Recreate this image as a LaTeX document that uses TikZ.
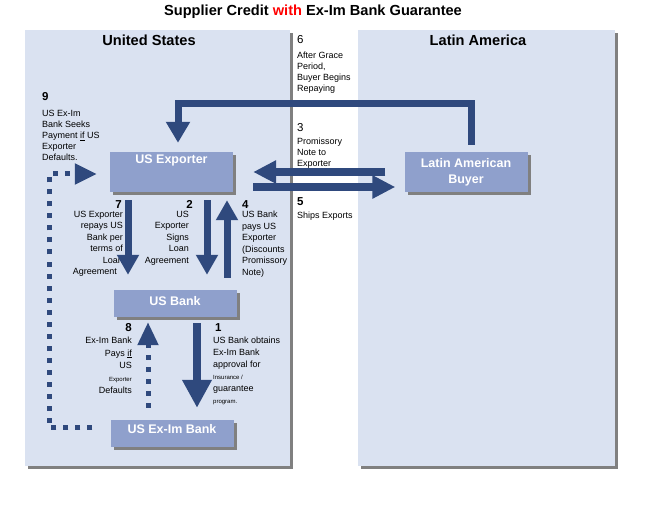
\documentclass[tikz,border=0pt]{standalone}
\usepackage{fontspec}
\setmainfont{Liberation Sans}
\usepackage{xcolor}
\usetikzlibrary{
    arrows.meta,
    shapes,
    positioning,
    shadows,
    calc
}
\definecolor{panelblue}{RGB}{218,226,241}
\definecolor{boxblue}{RGB}{143,160,204}
\definecolor{arrowblue}{RGB}{47,73,125}
\definecolor{shadowgray}{RGB}{128,128,128}
\tikzset{%
    % Specifications for style of nodes:
    plain/.style = {inner sep=0pt},
    panel/.style = {
        plain, rectangle, fill=panelblue, anchor=north west,
        drop shadow={shadow xshift=3pt, shadow yshift=-3pt, fill=shadowgray, opacity=1}
    },
    party/.style = {
        plain, rectangle, fill=boxblue, text=white, align=center,
        font=\fontsize{12.5}{16}\selectfont\bfseries,
        minimum width=123pt,
        drop shadow={shadow xshift=3pt, shadow yshift=-3pt, fill=shadowgray, opacity=1}
    },
    head/.style = {plain, font=\fontsize{14.6}{16}\selectfont\bfseries},
    num/.style = {plain, font=\fontsize{11.5}{12}\selectfont\bfseries},
    num-light/.style = {plain, font=\fontsize{11.5}{12}\selectfont},
    note-text/.style = {plain, align=left, font=\fontsize{9}{11.5}\selectfont},
    % Specifications for style of arrows:
    fat/.style = {draw=arrowblue, line width=7pt, -{Triangle[width=21pt,length=20pt]}},
    dots/.style = {fat, line width=5pt, dash pattern=on 5pt off 7pt}
}
\newcommand{\smalltxt}[1]{{\fontsize{6}{7}\selectfont #1}}

\begin{document}
\begin{tikzpicture}[x=1pt, y=-1pt]
    \useasboundingbox (0,0) rectangle (652,510);
    % the two countries
    \node[panel, minimum width=265pt, minimum height=436pt] (us) at (25,30) {};
    \node[panel, minimum width=257pt, minimum height=436pt] (latin) at (358,30) {};
    \node[head] (title) at (313,12) {Supplier Credit \textcolor{red}{with} Ex-Im Bank Guarantee};
    \node[head] (us-name) at (149,40) {United States};
    \node[head] (latin-name) at (478,40) {Latin America};
    % the parties
    \node[party, text height=12pt, text depth=28pt] (exporter) at (171.5,172) {US Exporter};
    \node[party, minimum height=40pt] (buyer) at (466,172) {Latin American\\Buyer};
    \node[party, text height=15pt, text depth=12pt] (bank) at (175,303.5) {US Bank};
    \node[party, text height=13pt, text depth=14pt] (exim) at (172,433.5) {US Ex-Im Bank};
    % steps
    \node[num, anchor=north west] (n9) at (42,92) {9};
    \node[note-text, anchor=north west, font=\fontsize{9}{11}\selectfont] (t9) at (42,110) {US Ex-Im\\Bank Seeks\\Payment \underline{if} US\\Exporter\\Defaults.};
    \node[num-light, anchor=north west] (n6) at (297,35) {6};
    \node[note-text, anchor=north west, font=\fontsize{9}{11}\selectfont] (t6) at (297,52) {After Grace\\Period,\\Buyer Begins\\Repaying};
    \node[num-light, anchor=north west] (n3) at (297,123) {3};
    \node[note-text, anchor=north west, font=\fontsize{9}{11}\selectfont] (t3) at (297,138) {Promissory\\Note to\\Exporter};
    \node[num, anchor=north west] (n5) at (297,197) {5};
    \node[note-text, anchor=north west] (t5) at (297,212) {Ships Exports};
    \node[num, anchor=north east] (n7) at (122,200) {7};
    \node[note-text, anchor=north east, align=right] (t7) at (123,211) {US Exporter\\repays US\\Bank per\\terms of\\Loan\\Agreement\hspace*{6pt}};
    \node[num, anchor=north east] (n2) at (193,200) {2};
    \node[note-text, anchor=north east, align=right] (t2) at (189,211) {US\\Exporter\\Signs\\Loan\\Agreement};
    \node[num, anchor=north west] (n4) at (242,200) {4};
    \node[note-text, anchor=north west] (t4) at (242,211) {US Bank\\pays US\\Exporter\\(Discounts\\Promissory\\Note)};
    \node[num, anchor=north east] (n8) at (132,323) {8};
    \node[note-text, anchor=north east, align=right, font=\fontsize{9}{12.5}\selectfont] (t8) at (132,337) {Ex-Im Bank\\Pays \underline{if}\\US\\\smalltxt{Exporter}\\Defaults};
    \node[num, anchor=north west] (n1) at (215,323) {1};
    \node[note-text, anchor=north west, font=\fontsize{9}{12}\selectfont] (t1) at (213,337) {US Bank obtains\\Ex-Im Bank\\approval for\\\smalltxt{Insurance /}\\guarantee\\\smalltxt{program.}};
    % arrows
    \coordinate (x7) at (128,0);
    \coordinate (x2) at (207,0);
    \coordinate (x4) at (227,0);
    \coordinate (x1) at (197,0);
    \coordinate (x8) at (148,0);
    \draw[fat, line width=8pt, -{Triangle[width=28pt,length=28pt]}] ($(bank.south -| x1)+(0,6)$) -- ($(exim.north -| x1)+(0,-12)$);
    \draw[fat] ($(exporter.south -| x2)+(0,8)$) -- ($(bank.north -| x2)+(0,-15)$);
    \draw[fat, line width=8pt, -{Triangle[width=22pt,length=23pt]}] ($(buyer.west)+(-19,0)$) -- ($(exporter.east)+(20,0)$);
    \draw[fat] ($(bank.north -| x4)+(0,-12)$) -- ($(exporter.south -| x4)+(0,8)$);
    \draw[fat, line width=8pt, -{Triangle[width=22pt,length=23pt]}] ($(exporter.east)+(20,15)$) -- ($(buyer.west)+(-9,15)$);
    \draw[fat, -{Triangle[width=23pt,length=21pt]}] ($(buyer.north)+(5,-7)$) -- ++(0,-41) -| ($(exporter.north)+(6.5,-9)$);
    \draw[fat] ($(exporter.south -| x7)+(0,8)$) -- ($(bank.north -| x7)+(0,-15)$);
    \draw[dots, -{Triangle[width=20pt,length=23pt]}] ($(exim.north -| x8)+(0,-12)$) -- ($(bank.south -| x8)+(0,5)$);
    \draw[dots, -{Triangle[width=20pt,length=22pt]}] ($(exim.west)+(-18,-6)$) -- ++(-43,0) |- ($(exporter.west)+(-13,2)$);
\end{tikzpicture}
\end{document}
